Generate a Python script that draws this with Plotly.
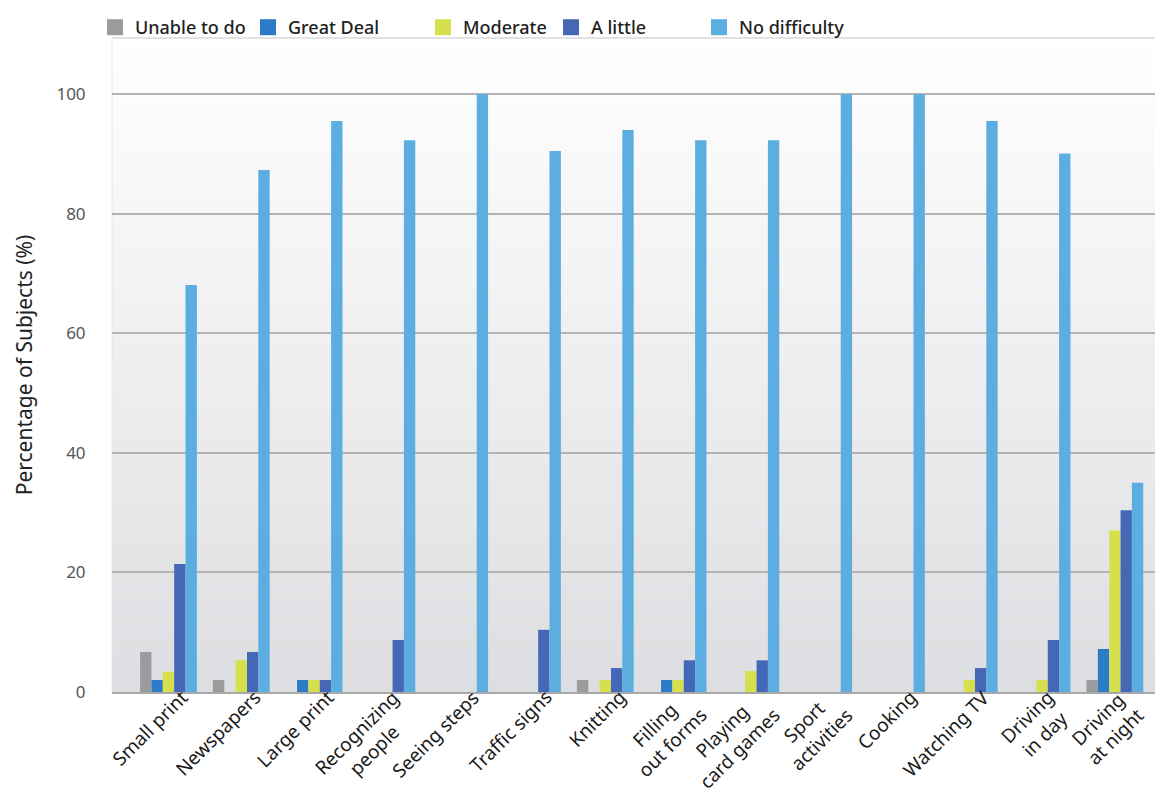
import plotly.graph_objects as go

categories = ["Small print", "Newspapers", "Large print", "Recognizing<br>people",
              "Seeing steps", "Traffic signs", "Knitting", "Filling<br>out forms",
              "Playing<br>card games", "Sport<br>activities", "Cooking", "Watching TV",
              "Driving<br>in day", "Driving<br>at night"]

unable_to_do = [6.7, 2.0, 0, 0, 0, 0, 2.0, 0, 0, 0, 0, 0, 0, 2.0]
great_deal   = [2.0, 0, 2.0, 0, 0, 0, 0, 2.0, 0, 0, 0, 0, 0, 7.2]
moderate     = [3.4, 5.3, 2.0, 0, 0, 0, 2.0, 2.0, 3.5, 0, 0, 2.0, 2.0, 27.0]
a_little     = [21.4, 6.7, 2.0, 8.7, 0, 10.4, 4.0, 5.3, 5.3, 0, 0, 4.0, 8.7, 30.4]
no_difficulty = [68.1, 87.3, 95.5, 92.3, 100, 90.5, 94.0, 92.3, 92.3, 100, 100, 95.5, 90.1, 35.0]

series_names = ["Unable to do", "Great Deal", "Moderate", "A little", "No difficulty"]
series_values = [unable_to_do, great_deal, moderate, a_little, no_difficulty]
series_colors = ["#9a9b9d", "#2b7bc6", "#d6e04c", "#4468b6", "#5caee0"]
legend_x_px = [87, 240, 415, 543, 691]

y_ticks = [0, 20, 40, 60, 80, 100]

# page has an 8px body margin, so figure is offset by 8px
W, H = 1155, 787
L, R, T, B = 104, 3, 30, 103
pw = W - L - R
ph = H - T - B

fig = go.Figure()
legend_layouts = {}
for i, (name, vals, col) in enumerate(zip(series_names, series_values, series_colors)):
    lg = "legend" if i == 0 else "legend%d" % (i + 1)
    fig.add_trace(go.Bar(name=name, x=categories, y=vals, marker_color=col,
                         marker_line_width=0, showlegend=False))
    fig.add_trace(go.Scatter(name=name, x=[None], y=[None], mode="markers",
                             marker=dict(symbol="square", size=16, color=col),
                             legend=lg, hoverinfo="skip"))
    legend_layouts[lg] = dict(
        orientation="h", x=(legend_x_px[i] - L) / pw, y=1.0 - 8 / ph,
        xanchor="left", yanchor="bottom",
        font=dict(size=18, color="#222", family="Noto Sans", weight=500),
        itemwidth=30, bgcolor="rgba(0,0,0,0)")

# category labels as rotated, centre-aligned annotations
LABEL_SIZE = 19
LINE_H = 25
annotations = []
for c in categories:
    nlines = c.count("<br>") + 1
    h = nlines * LINE_H
    annotations.append(dict(
        x=c, xref="x", y=0, yref="paper", text=c, showarrow=False,
        textangle=-45, align="center", xanchor="right", yanchor="top",
        xshift=18 + 0.4 * h, yshift=10,
        font=dict(size=LABEL_SIZE, color="#1a1a1a", family="Noto Sans")))

# vertical gradient background
shapes = []
n = 60
top = (255, 255, 255)
bot = (221, 222, 225)
for i in range(n):
    t = (i + 0.5) / n
    c = tuple(round(top[k] + (bot[k] - top[k]) * t) for k in range(3))
    shapes.append(dict(type="rect", xref="paper", yref="paper",
                       x0=0, x1=1, y0=1 - (i + 1) / n, y1=1 - i / n + 0.002,
                       fillcolor="rgb(%d,%d,%d)" % c, line_width=0, layer="below"))
shapes.append(dict(type="line", xref="paper", yref="paper", x0=0, x1=1, y0=1, y1=1,
                   line=dict(color="#d9d9d9", width=1.5), layer="below"))
shapes.append(dict(type="line", xref="paper", yref="paper", x0=0, x1=0, y0=0, y1=1,
                   line=dict(color="#e6e6e6", width=1), layer="below"))

fig.update_layout(
    width=W, height=H,
    margin=dict(l=L, r=R, t=T, b=B, autoexpand=False),
    paper_bgcolor="white", plot_bgcolor="white",
    barmode="group", bargap=0.22, bargroupgap=0,
    font=dict(family="Noto Sans", color="#222"),
    shapes=shapes, annotations=annotations,
    showlegend=True,
    **legend_layouts,
)
fig.update_xaxes(range=[-0.776, 13.62], showticklabels=False,
                 showline=True, linecolor="#a8a8a8", linewidth=2, ticks="",
                 showgrid=False, automargin=False)
fig.update_yaxes(range=[0, 109.4], tickvals=y_ticks, tickfont=dict(size=17, color="#555"),
                 showgrid=True, gridcolor="#b4b4b4", gridwidth=1.5, zeroline=False,
                 ticks="outside", ticklen=22, tickcolor="rgba(0,0,0,0)", automargin=False,
                 title=dict(text="Percentage of Subjects (%)", font=dict(size=21, color="#222"),
                            standoff=18))

fig.write_html("out.html")
